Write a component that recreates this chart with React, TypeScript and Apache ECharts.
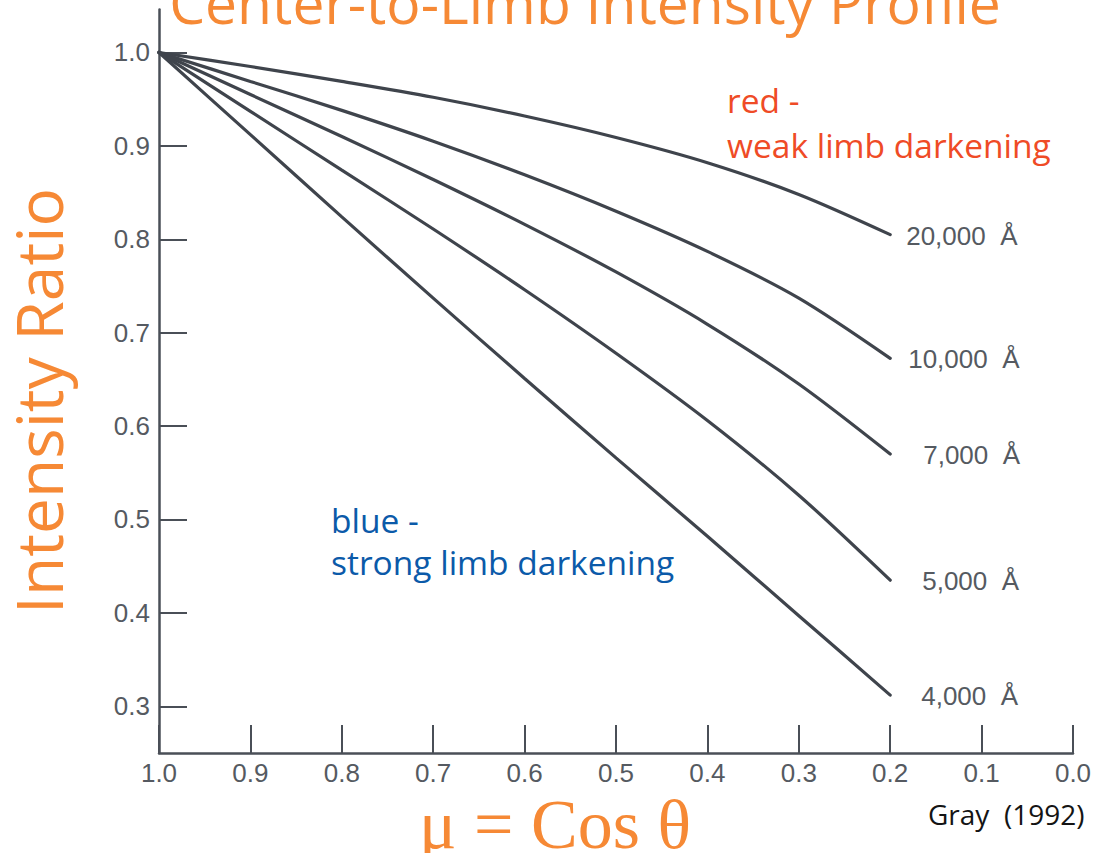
import React, { useEffect, useRef } from "react";
import * as echarts from "echarts";

// μ = cos θ sample positions, centre of disk (1.0) to near the limb (0.2)
const mu = [1.0, 0.9, 0.8, 0.7, 0.6, 0.5, 0.4, 0.3, 0.2];

// I(μ)/I(1) for each wavelength
const ratio20000 = [1.0, 0.985, 0.969, 0.952, 0.932, 0.909, 0.882, 0.848, 0.805];
const ratio10000 = [1.0, 0.969, 0.938, 0.905, 0.869, 0.83, 0.787, 0.737, 0.6725];
const ratio7000 = [1.0, 0.955, 0.91, 0.864, 0.816, 0.765, 0.709, 0.645, 0.57];
const ratio5000 = [1.0, 0.937, 0.874, 0.811, 0.746, 0.678, 0.606, 0.526, 0.435];
const ratio4000 = [1.0, 0.912, 0.824, 0.737, 0.651, 0.566, 0.482, 0.397, 0.312];

const curveNames = ["20,000  Å", "10,000  Å", "7,000  Å", "5,000  Å", "4,000  Å"];
const curveValues = [ratio20000, ratio10000, ratio7000, ratio5000, ratio4000];

// tick labels on the intensity axis
const yTicks = [0.3, 0.4, 0.5, 0.6, 0.7, 0.8, 0.9, 1.0];

const ORANGE = "#f68935";
const INK = "#3f444c";
const AXIS = "#4a4f57";
const LABEL_GREY = "#555a61";
const SANS = '"Open Sans", sans-serif';
const HELV = "Liberation Sans, Arial, sans-serif";
// gap between each curve's end and its wavelength label
const labelGap = [16, 18, 33, 32, 31];

export default function App() {
  const ref = useRef<HTMLDivElement>(null);

  useEffect(() => {
    if (!ref.current) return;
    const chart = echarts.init(ref.current, undefined, { renderer: "svg" });

    const series = curveValues.map((vals, i) => ({
      type: "line",
      name: curveNames[i],
      data: vals.map((v, k) => [mu[k], v]),
      showSymbol: false,
      symbol: "none",
      smooth: 0.3,
      clip: false,
      lineStyle: { color: INK, width: 3.2, cap: "round" },
      endLabel: {
        show: true,
        formatter: curveNames[i],
        distance: labelGap[i],
        align: "left",
        offset: [2 * labelGap[i], 1],
        color: LABEL_GREY,
        fontSize: 26,
        fontFamily: HELV,
      },
      emphasis: { disabled: true },
    }));

    chart.setOption({
      animation: false,
      backgroundColor: "#ffffff",
      grid: { left: 159, right: 30, top: 9.5, bottom: 100, containLabel: false },
      xAxis: {
        type: "value",
        inverse: true,
        min: 0,
        max: 1,
        interval: 0.1,
        position: "bottom",
        splitLine: { show: false },
        axisLine: { show: true, onZero: false, lineStyle: { color: AXIS, width: 2.5 } },
        axisTick: { show: true, inside: true, length: 28, lineStyle: { color: AXIS, width: 2 } },
        axisLabel: {
          show: true,
          showMinLabel: true,
          showMaxLabel: true,
          margin: 7,
          color: LABEL_GREY,
          fontSize: 26,
          fontFamily: HELV,
          formatter: (v: number) => v.toFixed(1),
        },
      },
      yAxis: {
        type: "value",
        min: 0.25,
        max: 1.046,
        position: "left",
        splitLine: { show: false },
        axisLine: { show: true, onZero: false, lineStyle: { color: AXIS, width: 2.5 } },
        axisTick: {
          show: true,
          inside: true,
          length: 28,
          customValues: yTicks,
          lineStyle: { color: AXIS, width: 2 },
        },
        axisLabel: {
          show: true,
          customValues: yTicks,
          margin: 9,
          color: LABEL_GREY,
          fontSize: 26,
          fontFamily: HELV,
          formatter: (v: number) => v.toFixed(1),
        },
      },
      series,
      graphic: [
        {
          type: "text",
          x: 585,
          y: 2,
          style: {
            text: "Center-to-Limb Intensity Profile",
            fill: ORANGE,
            font: `57px ${SANS}`,
            lineHeight: 57,
            align: "center",
            verticalAlign: "middle",
          },
        },
        {
          type: "text",
          x: 38,
          y: 401,
          rotation: Math.PI / 2,
          style: {
            text: "Intensity Ratio",
            fill: ORANGE,
            font: `64px ${SANS}`,
            lineHeight: 64,
            align: "center",
            verticalAlign: "middle",
          },
        },
        {
          type: "text",
          x: 555,
          y: 824,
          style: {
            text: "μ = Cos θ",
            fill: ORANGE,
            font: '70px "Liberation Serif", "Times New Roman", serif',
            lineHeight: 58,
            align: "center",
            verticalAlign: "middle",
          },
        },
        {
          type: "text",
          x: 928,
          y: 814,
          style: {
            text: "Gray  (1992)",
            fill: "#141414",
            font: `28px ${SANS}`,
            align: "left",
            verticalAlign: "middle",
          },
        },
        {
          type: "text",
          x: 727,
          y: 77,
          style: {
            text: "red -\nweak limb darkening",
            fill: "#ef4b26",
            font: `33.5px ${SANS}`,
            lineHeight: 45,
            align: "left",
            verticalAlign: "top",
          },
        },
        {
          type: "text",
          x: 331,
          y: 499,
          style: {
            text: "blue -\nstrong limb darkening",
            fill: "#0b5aa9",
            font: `33.5px ${SANS}`,
            lineHeight: 42,
            align: "left",
            verticalAlign: "top",
          },
        },
      ],
    });

    return () => chart.dispose();
  }, []);

  return (
    <div
      ref={ref}
      style={{ position: "fixed", left: 0, top: 0, width: 1103, height: 853 }}
    />
  );
}
